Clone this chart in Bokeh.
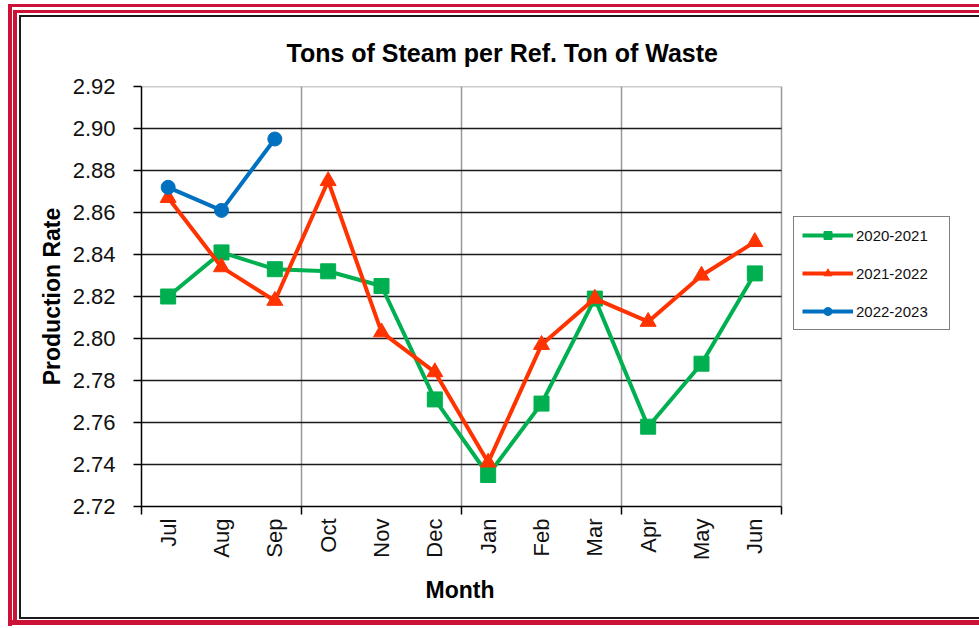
import math
from bokeh.plotting import figure
from bokeh.models import (Legend, LegendItem, FixedTicker, Title, Range1d,
                          PrintfTickFormatter)
from bokeh.embed import file_html
from bokeh.resources import INLINE

months = ["Jul", "Aug", "Sep", "Oct", "Nov", "Dec", "Jan", "Feb", "Mar", "Apr", "May", "Jun"]
s2020_2021 = [2.820, 2.841, 2.833, 2.832, 2.825, 2.771, 2.735, 2.769, 2.819, 2.758, 2.788, 2.831]
s2021_2022 = [2.867, 2.834, 2.818, 2.875, 2.803, 2.784, 2.741, 2.797, 2.819, 2.808, 2.830, 2.846]
s2022_2023 = [2.872, 2.861, 2.895]
y_ticks = [2.72, 2.74, 2.76, 2.78, 2.80, 2.82, 2.84, 2.86, 2.88, 2.90, 2.92]

xs = list(range(len(months)))
FONT = "Liberation Sans"
GREEN, RED, BLUE = "#00B050", "#FF3300", "#0070C0"
BORDER_RED = "#cc1236"

W, H = 979, 628
FRAME_L, FRAME_T, FRAME_R, FRAME_B = 141, 86, 781, 506
x0, x1 = -0.5, len(months) - 0.5
y0, y1 = y_ticks[0], y_ticks[-1]
ppu = (FRAME_R - FRAME_L) / (x1 - x0)           # pixels per category
x_end = x1 + (W - FRAME_R) / ppu                 # frame extended to the right edge

p = figure(width=W, height=H, output_backend="svg", toolbar_location=None,
           x_range=Range1d(x0, x_end), y_range=Range1d(y0, y1),
           min_border_left=FRAME_L, min_border_right=0, min_border_top=FRAME_T,
           min_border_bottom=H - FRAME_B)
p.border_fill_color = None
p.background_fill_color = None
p.outline_line_color = None
p.xgrid.visible = False
p.ygrid.visible = False

# decorative double frame (red, red, dark) drawn as CSS background stripes
rects = [
    (8, 4, W, 3, BORDER_RED), (8, 4, 4, 622, BORDER_RED), (8, 620, W, 5, BORDER_RED),
    (13, 10, W, 3, BORDER_RED), (13, 10, 4, 610, BORDER_RED),
    (19, 15, W, 2, "#1a1a1a"), (19, 15, 2, 604, "#1a1a1a"), (19, 617, W, 2, "#1a1a1a"),
]
bg = ", ".join(f"linear-gradient({c},{c}) {x}px {y}px / {w}px {h}px no-repeat"
               for x, y, w, h, c in rects)
p.styles = {"background": bg + ", white"}

t = Title(text="Tons of Steam per Ref. Ton of Waste", align="left", offset=145,
          text_font=FONT, text_font_size="25px", text_font_style="bold",
          text_color="black", standoff=40)
p.add_layout(t, "above")

# y axis
p.yaxis.ticker = FixedTicker(ticks=y_ticks, minor_ticks=[])
p.yaxis.formatter = PrintfTickFormatter(format="%.2f")
p.yaxis.major_label_text_font = FONT
p.yaxis.major_label_text_font_size = "22px"
p.yaxis.major_label_text_color = "#111111"
p.yaxis.major_tick_out = 8
p.yaxis.major_tick_in = 0
p.yaxis.major_tick_line_width = 1.5
p.yaxis.axis_line_width = 1.5
p.yaxis.major_label_standoff = 18
p.yaxis.axis_label = "Production Rate"
p.yaxis.axis_label_text_font = FONT
p.yaxis.axis_label_text_font_size = "23px"
p.yaxis.axis_label_text_font_style = "bold"
p.yaxis.axis_label_text_color = "black"
p.yaxis.axis_label_standoff = 5

# x axis
bounds = [x0 + 3 * i for i in range(5)]
p.xaxis.bounds = (x0, x1)
p.xaxis.ticker = FixedTicker(ticks=xs, minor_ticks=bounds)
p.xaxis.major_label_overrides = {x: m for x, m in zip(xs, months)}
p.xaxis.major_label_orientation = math.pi / 2
p.xaxis.major_label_text_font = FONT
p.xaxis.major_label_text_font_size = "22px"
p.xaxis.major_label_text_color = "#111111"
p.xaxis.major_tick_line_color = None
p.xaxis.major_tick_out = 0
p.xaxis.major_tick_in = 0
p.xaxis.minor_tick_out = 8
p.xaxis.minor_tick_in = 0
p.xaxis.minor_tick_line_width = 1.5
p.xaxis.axis_line_width = 1.5
p.xaxis.major_label_standoff = 4

month_title = Title(text="Month", align="left", offset=284, text_font=FONT,
                    text_font_size="23px", text_font_style="bold", text_color="black",
                    standoff=22)
p.add_layout(month_title, "below")

# grid lines limited to the plot area (vertical grey every 3 months, horizontal dark)
vx = bounds[1:]
p.segment(x0=vx, y0=[y0] * len(vx), x1=vx, y1=[y1] * len(vx),
          line_color="#999999", line_width=1.5)
hy = y_ticks[1:-1]
p.segment(x0=[x0] * len(hy), y0=hy, x1=[x1] * len(hy), y1=hy,
          line_color="#1a1a1a", line_width=1.5)
p.segment(x0=[x0], y0=[y1], x1=[x1], y1=[y1], line_color="#999999", line_width=1.5)

# series
p.line(xs, s2020_2021, line_color=GREEN, line_width=4)
p.scatter(xs, s2020_2021, marker="square", size=15, fill_color=GREEN, line_color=GREEN)
p.line(xs, s2021_2022, line_color=RED, line_width=4)
p.scatter(xs, s2021_2022, marker="triangle", size=16, fill_color=RED, line_color=RED)
x3 = xs[:len(s2022_2023)]
p.line(x3, s2022_2023, line_color=BLUE, line_width=4)
p.scatter(x3, s2022_2023, marker="circle", size=14, fill_color=BLUE, line_color=BLUE)

# legend glyphs (small markers like the original), no visible data
nan = float("nan")
items = []
for lab, col, mk in [("2020-2021", GREEN, "square"), ("2021-2022", RED, "triangle"),
                     ("2022-2023", BLUE, "circle")]:
    lr = p.line([0, 1], [nan, nan], line_color=col, line_width=4)
    sr = p.scatter([0], [nan], marker=mk, size=7, fill_color=col, line_color=col)
    items.append(LegendItem(label=lab, renderers=[lr, sr]))

leg = Legend(items=items, location=(652, 176), orientation="vertical",
             label_text_font=FONT, label_text_font_size="15px", label_text_color="#111111",
             glyph_width=51, glyph_height=20, label_height=20, label_standoff=3,
             label_width=85, spacing=18, padding=8, margin=0,
             border_line_color="black", border_line_width=1.5,
             background_fill_color="white", background_fill_alpha=1.0)
p.add_layout(leg, "center")

open("out.html", "w").write(file_html(p, INLINE))
